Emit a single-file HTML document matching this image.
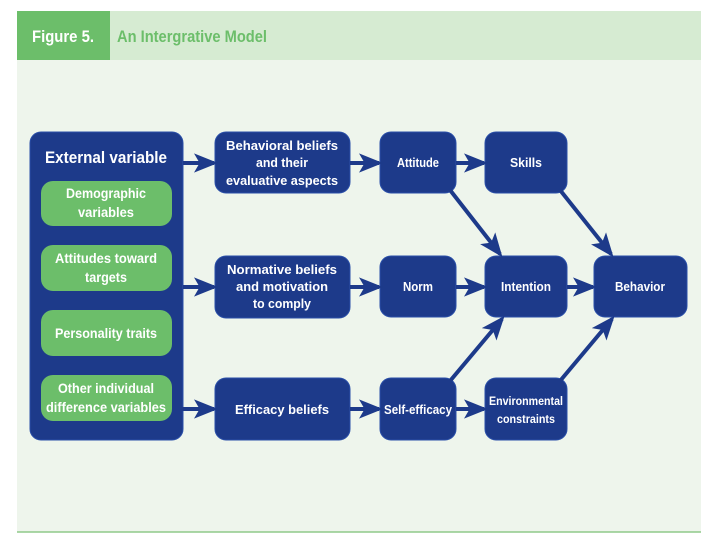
<!DOCTYPE html>
<html><head><meta charset="utf-8"><style>
html,body{margin:0;padding:0;background:#fff;}
svg{display:block;}
text{font-family:"Liberation Sans Narrow","Liberation Sans",sans-serif;font-weight:bold;fill:#fff;text-anchor:middle;}
</style></head><body>
<svg width="720" height="540" viewBox="0 0 720 540" xmlns="http://www.w3.org/2000/svg">
<defs>
<marker id="a" markerWidth="6" markerHeight="6" refX="5" refY="3" orient="auto" markerUnits="strokeWidth">
<path d="M0,0.6 L6,3 L0,5.4 L1.4,3 Z" fill="#1d3a8a"/>
</marker>
</defs>
<rect x="17" y="11" width="684" height="521" fill="#eef5ec"/>
<rect x="17" y="11" width="684" height="49" fill="#d6ebd2"/>
<rect x="17" y="11" width="93" height="49" fill="#6cbe6a"/>
<line x1="17" y1="532" x2="701" y2="532" stroke="#8fca8a" stroke-width="1.5"/>
<text x="63" y="42" font-size="17" textLength="62" lengthAdjust="spacingAndGlyphs">Figure 5.</text>
<text x="117" y="42" font-size="17" style="text-anchor:start;fill:#6cbe6a" textLength="150" lengthAdjust="spacingAndGlyphs">An Intergrative Model</text>

<g fill="#1d3a8a" stroke="#2a4fa8" stroke-width="1">
<rect x="30" y="132" width="153" height="308" rx="11"/>
<rect x="215" y="132" width="135" height="61" rx="11"/>
<rect x="215" y="256" width="135" height="62" rx="11"/>
<rect x="215" y="378" width="135" height="62" rx="11"/>
<rect x="380" y="132" width="76" height="61" rx="11"/>
<rect x="485" y="132" width="82" height="61" rx="11"/>
<rect x="380" y="256" width="76" height="61" rx="11"/>
<rect x="485" y="256" width="82" height="61" rx="11"/>
<rect x="594" y="256" width="93" height="61" rx="11"/>
<rect x="380" y="378" width="76" height="62" rx="11"/>
<rect x="485" y="378" width="82" height="62" rx="11"/>
</g>
<g fill="#6cbe6a">
<rect x="41" y="181" width="131" height="45" rx="12"/>
<rect x="41" y="245" width="131" height="46" rx="12"/>
<rect x="41" y="310" width="131" height="46" rx="12"/>
<rect x="41" y="375" width="131" height="46" rx="12"/>
</g>

<g stroke="#1d3a8a" stroke-width="4" marker-end="url(#a)" fill="none">
<line x1="183" y1="163" x2="214" y2="163"/>
<line x1="183" y1="287" x2="214" y2="287"/>
<line x1="172" y1="409" x2="214" y2="409"/>
<line x1="350" y1="163" x2="379" y2="163"/>
<line x1="350" y1="287" x2="379" y2="287"/>
<line x1="350" y1="409" x2="379" y2="409"/>
<line x1="456" y1="163" x2="484" y2="163"/>
<line x1="456" y1="287" x2="484" y2="287"/>
<line x1="456" y1="409" x2="484" y2="409"/>
<line x1="567" y1="287" x2="593" y2="287"/>
<line x1="450" y1="190" x2="500" y2="254"/>
<line x1="560" y1="190" x2="611" y2="254"/>
<line x1="450" y1="381" x2="502" y2="319"/>
<line x1="560" y1="381" x2="612" y2="319"/>
</g>

<g font-size="14" lengthAdjust="spacingAndGlyphs">
<text x="106" y="163" font-size="17" textLength="122" lengthAdjust="spacingAndGlyphs">External variable</text>
<text x="106" y="198" textLength="80" lengthAdjust="spacingAndGlyphs">Demographic</text><text x="106" y="217" textLength="56" lengthAdjust="spacingAndGlyphs">variables</text>
<text x="106" y="263" textLength="102" lengthAdjust="spacingAndGlyphs">Attitudes toward</text><text x="106" y="282" textLength="42" lengthAdjust="spacingAndGlyphs">targets</text>
<text x="106" y="338" textLength="102" lengthAdjust="spacingAndGlyphs">Personality traits</text>
<text x="106" y="393" textLength="96" lengthAdjust="spacingAndGlyphs">Other individual</text><text x="106" y="412" textLength="120" lengthAdjust="spacingAndGlyphs">difference variables</text>
</g>
<g font-size="13">
<text x="282" y="150" textLength="112" lengthAdjust="spacingAndGlyphs">Behavioral beliefs</text><text x="282" y="167" textLength="52" lengthAdjust="spacingAndGlyphs">and their</text><text x="282" y="185" textLength="112" lengthAdjust="spacingAndGlyphs">evaluative aspects</text>
<text x="282" y="274" textLength="110" lengthAdjust="spacingAndGlyphs">Normative beliefs</text><text x="282" y="291" textLength="92" lengthAdjust="spacingAndGlyphs">and motivation</text><text x="282" y="308" textLength="58" lengthAdjust="spacingAndGlyphs">to comply</text>
<text x="282" y="414" textLength="94" lengthAdjust="spacingAndGlyphs">Efficacy beliefs</text>
<text x="418" y="167" textLength="42" lengthAdjust="spacingAndGlyphs">Attitude</text>
<text x="526" y="167" textLength="32" lengthAdjust="spacingAndGlyphs">Skills</text>
<text x="418" y="291" textLength="30" lengthAdjust="spacingAndGlyphs">Norm</text>
<text x="526" y="291" textLength="50" lengthAdjust="spacingAndGlyphs">Intention</text>
<text x="640" y="291" textLength="50" lengthAdjust="spacingAndGlyphs">Behavior</text>
<text x="418" y="414" textLength="68" lengthAdjust="spacingAndGlyphs">Self-efficacy</text>
<text x="526" y="405" font-size="12" textLength="74" lengthAdjust="spacingAndGlyphs">Environmental</text><text x="526" y="423" font-size="12" textLength="58" lengthAdjust="spacingAndGlyphs">constraints</text>
</g>
</svg>
</body></html>
